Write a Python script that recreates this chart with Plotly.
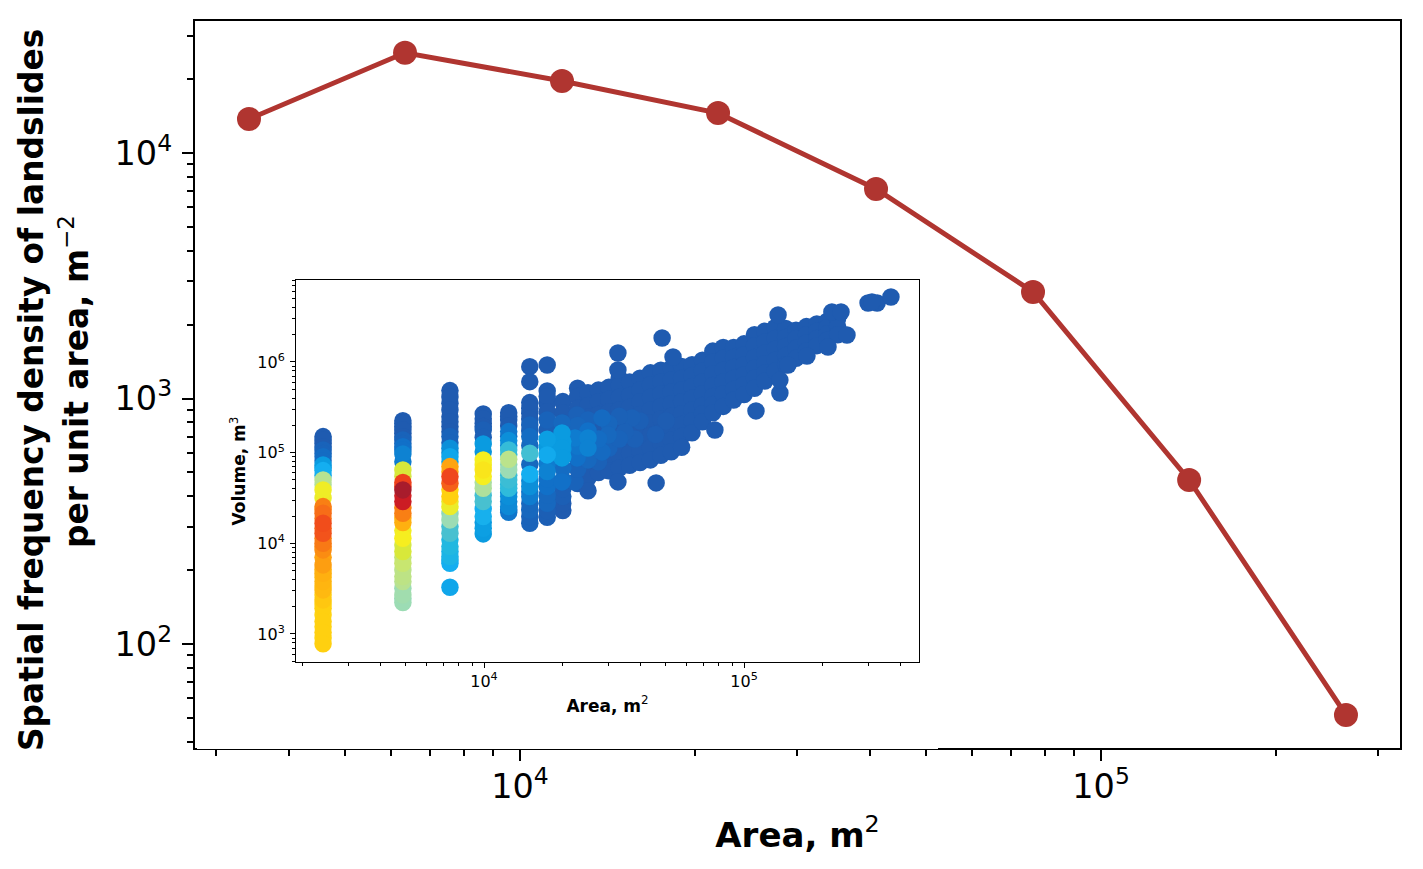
import plotly.graph_objects as go

# ---------- main curve ----------
main_area = [3416, 6340, 11810, 21920, 41000, 76380, 141800, 264000]
main_density = [13760, 25600, 19650, 14550, 7135, 2716, 466, 51.4]

# ---------- inset: log10(area), log10(volume), relative point density ----------
col_log_area = [3.381, 3.688, 3.869, 3.997, 4.095, 4.176, 4.243, 4.303]
col_log_volume = [
    [5.177, 5.103, 5.030, 4.956, 4.864, 4.802, 4.699, 4.589, 4.405, 4.332, 4.221, 4.111, 4.001, 3.927, 3.762, 3.670, 3.578, 3.486, 3.376, 3.284, 3.137, 3.016, 2.891],
    [5.353, 5.287, 5.213, 5.140, 5.066, 4.986, 4.809, 4.670, 4.589, 4.460, 4.332, 4.229, 4.056, 3.909, 3.780, 3.633, 3.578, 3.431, 3.347],
    [5.684, 5.544, 5.397, 5.287, 5.177, 5.048, 4.956, 4.846, 4.736, 4.662, 4.515, 4.405, 4.258, 4.111, 3.964, 3.854, 3.780, 3.516],
    [5.427, 5.324, 5.250, 5.096, 4.919, 4.809, 4.736, 4.607, 4.460, 4.295, 4.166, 4.104],
    [5.441, 5.360, 5.232, 5.133, 5.030, 4.927, 4.809, 4.699, 4.607, 4.515, 4.405, 4.343],
    [5.948, 5.783, 5.552, 5.434, 5.305, 5.177, 4.993, 4.761, 4.626, 4.515, 4.368, 4.221],
    [5.967, 5.680, 5.544, 5.360, 5.147, 4.975, 4.791, 4.626, 4.442, 4.287],
    [5.563, 5.324, 5.122, 4.956, 4.699, 4.515, 4.361],
]
col_point_density = [
    [0, 0, .02, .04, .12, .17, .40, .56, .80, .83, .88, .87, .81, .78, .75, .72, .71, .70, .67, .65, .65, .65, .65],
    [0, 0, 0, .02, .05, .08, .50, .90, 1.0, .96, .80, .72, .58, .50, .46, .42, .40, .35, .34],
    [0, 0, 0, 0, .02, .10, .15, .74, .89, .85, .65, .55, .34, .28, .22, .20, .17, .15],
    [0, 0, .01, .12, .58, .60, .58, .38, .28, .18, .13, .12],
    [0, 0, .06, .10, .25, .41, .34, .26, .24, .10, .09, .06],
    [0, 0, 0, 0, .02, .04, .27, .17, .10, .07, .03, .02],
    [0, 0, 0, .02, .13, .16, .08, .05, .03, .01],
    [0, .02, .12, .12, .04, .01, 0],
]
col_more_volume = [
    [5.14, 5.065, 4.99, 4.91, 4.83, 4.75, 4.645, 4.50, 4.37, 4.275, 4.165, 4.055, 3.965, 3.845, 3.715, 3.625, 3.53, 3.43, 3.33, 3.21, 3.08, 2.955],
    [5.32, 5.25, 5.176, 5.10, 5.03, 4.90, 4.74, 4.63, 4.525, 4.395, 4.28, 4.14, 3.98, 3.845, 3.705, 3.505, 3.39],
    [5.615, 5.47, 5.34, 5.23, 5.11, 5.0, 4.90, 4.79, 4.59, 4.46, 4.33, 4.185, 4.04, 3.91, 3.815],
    [5.375, 5.287, 5.17, 5.01, 4.865, 4.67, 4.53, 4.38, 4.23],
    [5.40, 5.295, 5.18, 5.08, 4.98, 4.87, 4.75, 4.65, 4.56, 4.46, 4.37],
    [5.49, 5.37, 5.24, 5.08, 4.87, 4.69, 4.57, 4.44, 4.295],
    [5.62, 5.45, 5.25, 5.06, 4.88, 4.71, 4.53, 4.36],
    [5.44, 5.22, 5.04, 4.83, 4.60, 4.44],
]
col_more_density = [
    [0, 0, .02, .04, .11, .16, .38, .55, .79, .81, .84, .79, .77, .74, .71, .69, .68, .65, .64, .64, .64, .64],
    [0, 0, 0, .02, .05, .07, .49, .89, .95, .79, .71, .57, .49, .45, .41, .34, .33],
    [0, 0, 0, 0, .02, .09, .14, .73, .64, .54, .33, .27, .21, .19, .16],
    [0, 0, .01, .11, .57, .37, .27, .17, .12],
    [0, 0, .05, .09, .24, .33, .25, .23, .09, .08, .05],
    [0, 0, .01, .03, .03, .09, .06, .03, .02],
    [0, 0, .01, .12, .07, .05, .03, .01],
    [0, .02, .11, .04, .01, 0],
]

cloud_log_area = [4.36, 4.40, 4.44, 4.48, 4.52, 4.56, 4.60, 4.64, 4.68, 4.72, 4.76, 4.80, 4.84,
                  4.88, 4.92, 4.96, 5.00, 5.04, 5.08, 5.12, 5.16, 5.20, 5.24, 5.28, 5.32, 5.36]
cloud_log_volume = [
    [5.71, 5.62, 5.49, 5.36, 5.23, 5.10, 4.97, 4.84, 4.66],
    [5.66, 5.52, 5.39, 5.26, 5.13, 5.00, 4.86, 4.72, 4.58],
    [5.69, 5.56, 5.42, 5.29, 5.16, 5.03, 4.90, 4.78],
    [5.72, 5.59, 5.45, 5.32, 5.19, 5.06, 4.93, 4.80],
    [5.82, 5.74, 5.61, 5.47, 5.34, 5.21, 5.09, 4.96, 4.83],
    [5.78, 5.63, 5.50, 5.37, 5.25, 5.12, 4.99, 4.86],
    [5.82, 5.69, 5.56, 5.42, 5.29, 5.15, 5.02, 4.89],
    [5.88, 5.75, 5.61, 5.47, 5.33, 5.19, 5.05, 4.92],
    [5.91, 5.78, 5.65, 5.51, 5.37, 5.23, 5.10, 4.97],
    [5.93, 5.80, 5.67, 5.54, 5.40, 5.27, 5.14, 5.01],
    [5.95, 5.82, 5.69, 5.56, 5.43, 5.31, 5.18, 5.06],
    [5.97, 5.85, 5.73, 5.60, 5.47, 5.35, 5.22],
    [6.02, 5.90, 5.78, 5.65, 5.52, 5.43, 5.34],
    [6.12, 6.00, 5.87, 5.74, 5.62, 5.53, 5.44],
    [6.16, 6.04, 5.91, 5.78, 5.65, 5.51],
    [6.16, 6.05, 5.94, 5.82, 5.70, 5.58],
    [6.20, 6.08, 5.97, 5.86, 5.75, 5.64],
    [6.30, 6.18, 6.05, 5.93, 5.82, 5.71],
    [6.34, 6.22, 6.10, 5.98, 5.88, 5.79],
    [6.38, 6.26, 6.14, 6.02, 5.90],
    [6.37, 6.27, 6.17, 6.07, 5.97],
    [6.35, 6.26, 6.15, 6.04],
    [6.39, 6.30, 6.21, 6.12],
    [6.42, 6.34, 6.26, 6.18],
    [6.45, 6.38, 6.31, 6.24],
    [6.48, 6.39, 6.30],
]

outlier_log_area = [4.515, 4.515, 4.685, 4.727, 4.515, 4.662, 4.888, 5.046, 5.138, 5.138, 5.131,
                    5.338, 5.373, 5.396, 5.323, 5.242, 5.169, 5.477, 5.512, 5.492, 5.565]
outlier_log_volume = [6.099, 5.912, 6.265, 6.055, 4.677, 4.666, 5.25, 5.46, 5.658, 5.80, 6.518,
                      6.551, 6.551, 6.298, 6.165, 6.066, 5.967, 6.65, 6.65, 6.66, 6.717]

core_log_area = [4.40, 4.40, 4.30, 4.30, 4.30, 4.30, 4.358, 4.40, 4.454, 4.477, 4.569, 4.542, 4.454,
                 4.35, 4.30, 4.40, 4.358, 4.35,
                 4.36, 4.40, 4.44, 4.48, 4.48, 4.52, 4.52, 4.58, 4.60, 4.36, 4.36, 4.44, 4.66, 4.70]
core_log_volume = [5.162, 5.05, 5.217, 5.052, 4.942, 4.677, 4.942, 4.92, 5.383, 5.195, 5.383, 5.228, 5.008,
                   5.162, 5.327, 5.36, 5.416, 4.677,
                   5.30, 5.24, 5.15, 5.32, 5.05, 5.15, 5.40, 5.15, 5.35, 5.07, 4.82, 4.90, 5.20, 5.35]
core_point_density = [.08, .08, .12, .12, .12, .05, .05, .03, .035, .03, .015, .015, .035,
                      .07, .03, .02, .015, .02,
                      .025, .05, .04, .025, .02, .02, .015, .012, .01, .06, .02, .015, .008, .005]

density_colors = [
    [0, "#1f5bb0"], [.05, "#1170c8"], [.12, "#0a9be0"], [.17, "#14aef0"], [.22, "#22b8e0"],
    [.28, "#48c0d0"], [.34, "#9cdcb4"], [.40, "#b8e290"], [.46, "#c8e670"], [.50, "#d8e83a"],
    [.58, "#f6ee20"], [.65, "#ffd010"], [.72, "#ffb010"], [.78, "#fb8c12"], [.85, "#f5601a"],
    [.90, "#ee401c"], [.96, "#cc1c24"], [1, "#a81c2c"],
]

points = []
for a, vs, ds in zip(col_log_area, col_log_volume, col_point_density):
    points += [(a, v, d) for v, d in zip(vs, ds)]
for a, vs, ds in zip(col_log_area, col_more_volume, col_more_density):
    points += [(a, v, d) for v, d in zip(vs, ds)]
for a, vs in zip(cloud_log_area, cloud_log_volume):
    points += [(a, v, 0) for v in vs]
points += [(a, v, 0) for a, v in zip(outlier_log_area, outlier_log_volume)]
points += list(zip(core_log_area, core_log_volume, core_point_density))
points.sort(key=lambda p: p[2])

FONT = "DejaVu Sans"
W, H = 1423, 869

fig = go.Figure()
fig.add_trace(go.Scatter(
    x=main_area, y=main_density, mode="lines+markers",
    line=dict(color="#b03530", width=5), marker=dict(color="#b03530", size=24),
    xaxis="x", yaxis="y", showlegend=False))
fig.add_trace(go.Scatter(
    x=[10 ** p[0] for p in points], y=[10 ** p[1] for p in points], mode="markers",
    marker=dict(size=17.5, color=[p[2] for p in points], colorscale=density_colors,
                cmin=0, cmax=1, line=dict(width=0), opacity=1),
    xaxis="x2", yaxis="y2", showlegend=False))


def px_x(p):
    return p / W


def px_y(p):
    return 1 - p / H


def log_axis(rng, domain, anchor, vals, size, lw, major, minor, title, title_size, standoff, label_off):
    return dict(
        type="log", range=rng, domain=domain, anchor=anchor,
        tickmode="array", tickvals=[10 ** v for v in vals],
        ticktext=[f"10<sup>{v}</sup>" for v in vals],
        tickfont=dict(family=FONT, size=size, color="black"),
        ticks="outside", ticklen=major, tickwidth=lw, tickcolor="black",
        ticklabelstandoff=label_off,
        minor=dict(ticks="outside", ticklen=minor, tickwidth=lw, tickcolor="black", dtick="D1"),
        showgrid=False, zeroline=False, showline=True, linecolor="black", linewidth=lw,
        mirror=True,
        title=dict(text=title, font=dict(family=FONT, size=title_size, color="black"), standoff=standoff),
    )


def y_title(text, x_px, y_px):
    return dict(text=text, xref="paper", yref="paper", x=px_x(x_px), y=px_y(y_px),
                xanchor="center", yanchor="middle", textangle=-90, showarrow=False,
                font=dict(family=FONT, size=32.8, color="black"))


fig.update_layout(
    width=W, height=H, autosize=False,
    margin=dict(l=0, r=0, t=0, b=0),
    paper_bgcolor="white", plot_bgcolor="white",
    xaxis=log_axis([3.4406, 5.5146], [px_x(195), px_x(1400)], "y", [4, 5], 33.5, 2.4, 11, 6,
                   "<b>Area, m</b><sup>2</sup>", 34, 18, -3),
    yaxis=log_axis([1.5784, 4.5377], [px_y(747.5), px_y(21)], "x", [2, 3, 4], 33.5, 2.4, 11, 6,
                   "", 33, 14, 3),
    xaxis2=log_axis([3.2769, 5.673], [px_x(296), px_x(919)], "y2", [4, 5], 16, 1, 5, 3,
                    "<b>Area, m</b><sup>2</sup>", 17, 9, 0),
    yaxis2=log_axis([2.691, 6.904], [px_y(662), px_y(280)], "x2", [3, 4, 5, 6], 16, 1, 5, 3,
                    "<b>Volume, m</b><sup>3</sup>", 17, 7, 2),
    annotations=[
        y_title("<b>Spatial frequency density of landslides</b>", 32, 390),
        y_title("<b>per unit area, m</b><sup>−2</sup>", 74, 382),
    ],
    shapes=[dict(type="rect", xref="paper", yref="paper", layer="above",
                 x0=px_x(197), x1=px_x(938), y0=px_y(749), y1=px_y(746),
                 fillcolor="white", line=dict(width=0))],
)

fig.write_html("out.html", config={"displayModeBar": False},
               post_script="document.body.style.margin='0';document.body.style.overflow='hidden';")
